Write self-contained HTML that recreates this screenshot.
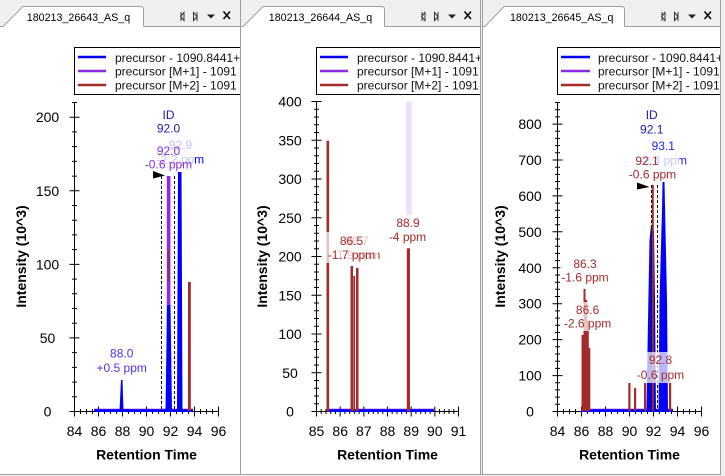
<!DOCTYPE html>
<html><head><meta charset="utf-8"><style>
html,body{margin:0;padding:0;background:#fff;width:725px;height:476px;overflow:hidden}
svg{display:block}
text{font-family:"Liberation Sans",Arial,sans-serif}
.t{font-size:14px;fill:#000}
.ti{font-size:14px;font-weight:bold;fill:#000}
.lg{font-size:12px;fill:#111}
.lb{font-size:12px}
.tab{font-size:10.7px;fill:#000}
</style></head><body>
<svg width="725" height="476" viewBox="0 0 725 476" xmlns="http://www.w3.org/2000/svg">
<defs>
<clipPath id="c1"><rect x="0" y="27" width="240" height="447"/></clipPath>
<clipPath id="c2"><rect x="241" y="27" width="239" height="447"/></clipPath>
<clipPath id="c3"><rect x="483" y="27" width="237" height="447"/></clipPath>
</defs>
<rect width="725" height="476" fill="#fff"/>
<!-- tab strip -->
<rect x="0" y="0" width="725" height="26.5" fill="#f0f0f0"/>
<rect x="721" y="0" width="4" height="476" fill="#f0f0f0"/>
<rect x="0" y="475" width="725" height="1" fill="#f0f0f0"/>
<rect x="481" y="0" width="1.5" height="475" fill="#f0f0f0"/>
<g fill="#fff" stroke="#a0a0a0" stroke-width="1">
<path d="M3 26.5 L23 6.5 H140 Q143.5 6.5 143.5 9.5 V26.5"/>
<path d="M243 26.5 L263 6.5 H381 Q384.5 6.5 384.5 9.5 V26.5"/>
<path d="M485 26.5 L504 6.5 H621 Q624.5 6.5 624.5 9.5 V26.5"/>
</g>
<path d="M0 26.5H3M143.5 26.5H240.5M240.5 26.5H243M384.5 26.5H480.5M482.5 26.5H485M624.5 26.5H720.5" stroke="#a0a0a0" fill="none"/>
<path d="M240.5 0V474.5M480.5 0V474.5M482.5 0V474.5M720.5 0V474.5M0 474.5H721" stroke="#a0a0a0" fill="none"/>
<text class="tab" x="78.5" y="21" text-anchor="middle">180213_26643_AS_q</text>
<text class="tab" x="320.5" y="21" text-anchor="middle">180213_26644_AS_q</text>
<text class="tab" x="561.7" y="21" text-anchor="middle">180213_26645_AS_q</text>
<!-- tab controls -->
<g stroke="#333" stroke-width="1" fill="none">
<path d="M184 12.5 L180.5 16.5 L184 20.5 Z M181 12v9"/>
<path d="M193.5 12.5 L197 16.5 L193.5 20.5 Z M197 12v9"/>
<path d="M425 12.5 L421.5 16.5 L425 20.5 Z M422 12v9"/>
<path d="M434.5 12.5 L438 16.5 L434.5 20.5 Z M438 12v9"/>
<path d="M665 12.5 L661.5 16.5 L665 20.5 Z M662 12v9"/>
<path d="M674.5 12.5 L678 16.5 L674.5 20.5 Z M678 12v9"/>
</g>
<g fill="#222">
<path d="M207 14.5H215L211 18.5Z"/><path d="M448 14.5H456L452 18.5Z"/><path d="M688 14.5H696L692 18.5Z"/>
</g>
<g stroke="#111" stroke-width="1.7">
<path d="M223.5 11.5L230 19M230 11.5L223.5 19"/>
<path d="M464.5 11.5L471 19M471 11.5L464.5 19"/>
<path d="M704.5 11.5L711 19M711 11.5L704.5 19"/>
</g>

<!-- ================= PANEL 1 ================= -->
<g clip-path="url(#c1)">
<rect x="74.5" y="47.5" width="180" height="47" fill="#fff" stroke="#000"/>
<path d="M78 57H106" stroke="#0000ff" stroke-width="2.5"/>
<path d="M78 71H106" stroke="#8a2be2" stroke-width="2.5"/>
<path d="M78 85H106" stroke="#a52a2a" stroke-width="2.5"/>
<text class="lg" x="115" y="62">precursor - 1090.8441++</text>
<text class="lg" x="115" y="75.5">precursor [M+1] - 1091</text>
<text class="lg" x="115" y="89.5">precursor [M+2] - 1091</text>
</g>
<g stroke="#000" stroke-width="1" fill="none">
<path d="M74.5 102.5V411.5M74.5 411.5H218.5"/>
<path d="M69.5 411.5h10M69.5 337.9h10M69.5 264.4h10M69.5 190.8h10M69.5 117.2h10"/>
<path d="M72 396.8h5M72 382.1h5M72 367.4h5M72 352.6h5M72 323.2h5M72 308.5h5M72 293.8h5M72 279.1h5M72 249.6h5M72 234.9h5M72 220.2h5M72 205.5h5M72 176.1h5M72 161.4h5M72 146.6h5M72 131.9h5M72 102.5h5"/>
<path d="M74.5 406.5v10M98.5 406.5v10M122.5 406.5v10M146.5 406.5v10M170.5 406.5v10M194.5 406.5v10M218.5 406.5v10"/>
<path d="M80.5 409v5M86.5 409v5M92.5 409v5M104.5 409v5M110.5 409v5M116.5 409v5M128.5 409v5M134.5 409v5M140.5 409v5M152.5 409v5M158.5 409v5M164.5 409v5M176.5 409v5M182.5 409v5M188.5 409v5M200.5 409v5M206.5 409v5M212.5 409v5"/>
</g>
<g class="t" text-anchor="middle">
<text class="t" x="47.5" y="416.5">0</text>
<text class="t" x="47.5" y="342.9">50</text>
<text class="t" x="47.5" y="269.4">100</text>
<text class="t" x="47.5" y="195.8">150</text>
<text class="t" x="47.5" y="122.2">200</text>
<text class="t" x="74.5" y="436">84</text>
<text class="t" x="98.5" y="436">86</text>
<text class="t" x="122.5" y="436">88</text>
<text class="t" x="146.5" y="436">90</text>
<text class="t" x="170.5" y="436">92</text>
<text class="t" x="194.5" y="436">94</text>
<text class="t" x="218.5" y="436">96</text>
<text class="ti" x="146.5" y="459.5">Retention Time</text>
<text class="ti" transform="translate(26,256.5) rotate(-90)">Intensity (10^3)</text>
</g>
<!-- panel 1 curves -->
<path d="M94 410.5H193" stroke="#0000ff" stroke-width="3"/>
<path d="M94 409H193" stroke="#8a2be2" stroke-width="1" opacity=".6"/>
<path d="M119.5 411 L121 380 L122.5 380 L123.5 411Z" fill="#0000ff"/>
<rect x="166.8" y="176" width="3.6" height="235" fill="#8a2be2"/>
<rect x="167.3" y="250" width="2.6" height="32" fill="#8e2a86"/>
<path d="M165.5 411 L167 305 L170.5 305 L172 411Z" fill="#0000ff"/>
<path d="M177 411 L178 172 L181.5 172 L182.5 411Z" fill="#0000ff"/>
<rect x="188" y="282" width="2.8" height="129" fill="#a52a2a"/>
<path d="M161.5 176V411M174.5 176V411" stroke="#000" stroke-width="1" stroke-dasharray="3,2"/>
<path d="M153 171 L153 178.5 L165 175.5Z" fill="#000"/>
<!-- panel 1 labels -->
<g class="lb" text-anchor="middle">
<text class="lb" x="121.7" y="357.5" fill="#4b32f0">88.0</text>
<text class="lb" x="121.7" y="372" fill="#4b32f0">+0.5 ppm</text>
<text class="lb" x="180.5" y="149.2" fill="#0000ff">92.9</text>
<text class="lb" x="180.5" y="163.5" fill="#0000ff">-2.2 ppm</text>
<rect x="143" y="139" width="51" height="31" fill="#fff" opacity=".75"/>
<text class="lb" x="168.5" y="155" fill="#8a2be2">92.0</text>
<text class="lb" x="168.5" y="168.5" fill="#8a2be2">-0.6 ppm</text>
<text class="lb" x="168.5" y="119" fill="#1a1ab4">ID</text>
<text class="lb" x="168.5" y="132.5" fill="#1a1ab4">92.0</text>
</g>

<!-- ================= PANEL 2 ================= -->
<g clip-path="url(#c2)">
<rect x="316.5" y="47.5" width="180" height="47" fill="#fff" stroke="#000"/>
<path d="M320 57H348" stroke="#0000ff" stroke-width="2.5"/>
<path d="M320 71H348" stroke="#8a2be2" stroke-width="2.5"/>
<path d="M320 85H348" stroke="#a52a2a" stroke-width="2.5"/>
<text class="lg" x="357" y="62">precursor - 1090.8441++</text>
<text class="lg" x="357" y="75.5">precursor [M+1] - 1091</text>
<text class="lg" x="357" y="89.5">precursor [M+2] - 1091</text>
</g>
<g stroke="#000" stroke-width="1" fill="none">
<path d="M316.5 101.5V411.5M316.5 411.5H458.5"/>
<path d="M311.5 411.5h10M311.5 372.75h10M311.5 334h10M311.5 295.25h10M311.5 256.5h10M311.5 217.75h10M311.5 179h10M311.5 140.25h10M311.5 101.5h10"/>
<path d="M314 403.75h5M314 396h5M314 388.25h5M314 380.5h5M314 365h5M314 357.25h5M314 349.5h5M314 341.75h5M314 326.25h5M314 318.5h5M314 310.75h5M314 303h5M314 287.5h5M314 279.75h5M314 272h5M314 264.25h5M314 248.75h5M314 241h5M314 233.25h5M314 225.5h5M314 210h5M314 202.25h5M314 194.5h5M314 186.75h5M314 171.25h5M314 163.5h5M314 155.75h5M314 148h5M314 132.5h5M314 124.75h5M314 117h5M314 109.25h5"/>
<path d="M316.5 406.5v10M340.17 406.5v10M363.83 406.5v10M387.5 406.5v10M411.17 406.5v10M434.83 406.5v10M458.5 406.5v10"/>
<path d="M321.23 409v5M325.97 409v5M330.7 409v5M335.43 409v5M344.9 409v5M349.63 409v5M354.37 409v5M359.1 409v5M368.57 409v5M373.3 409v5M378.03 409v5M382.77 409v5M392.23 409v5M396.97 409v5M401.7 409v5M406.43 409v5M415.9 409v5M420.63 409v5M425.37 409v5M430.1 409v5M439.57 409v5M444.3 409v5M449.03 409v5M453.77 409v5"/>
</g>
<g text-anchor="middle">
<text class="t" x="290" y="416.5">0</text>
<text class="t" x="290" y="377.75">50</text>
<text class="t" x="290" y="339">100</text>
<text class="t" x="290" y="300.25">150</text>
<text class="t" x="290" y="261.5">200</text>
<text class="t" x="290" y="222.75">250</text>
<text class="t" x="290" y="184">300</text>
<text class="t" x="290" y="145.25">350</text>
<text class="t" x="290" y="106.5">400</text>
<text class="t" x="316.5" y="436">85</text>
<text class="t" x="340.2" y="436">86</text>
<text class="t" x="363.8" y="436">87</text>
<text class="t" x="387.5" y="436">88</text>
<text class="t" x="411.2" y="436">89</text>
<text class="t" x="434.8" y="436">90</text>
<text class="t" x="458.5" y="436">91</text>
<text class="ti" x="387.5" y="459.5">Retention Time</text>
<text class="ti" transform="translate(267,256.5) rotate(-90)">Intensity (10^3)</text>
</g>
<!-- panel 2 curves -->
<rect x="406" y="101.7" width="5.7" height="113.3" fill="#ede2fb"/>
<path d="M327 410.5H434" stroke="#0000ff" stroke-width="3"/>
<path d="M327 409H434" stroke="#8a2be2" stroke-width="1" opacity=".6"/>
<rect x="326.5" y="140.7" width="2.6" height="270.8" fill="#a52a2a"/>
<rect x="350.5" y="266" width="2.5" height="145" fill="#a52a2a"/>
<rect x="353.3" y="276" width="1.8" height="135" fill="#a52a2a"/>
<rect x="356" y="268" width="2.5" height="143" fill="#a52a2a"/>
<rect x="406.8" y="248.3" width="3.2" height="163" fill="#a52a2a"/>
<!-- panel 2 labels -->
<g text-anchor="middle">
<text class="lb" x="356.7" y="245" fill="#a52a2a">86.7</text>
<text class="lb" x="356.7" y="259.2" fill="#a52a2a">-1.9 ppm</text>
<rect x="325" y="232" width="53" height="31" fill="#fff" opacity=".72"/>
<text class="lb" x="351.5" y="245" fill="#a52a2a">86.5</text>
<text class="lb" x="351.5" y="259.2" fill="#a52a2a">-1.7 ppm</text>
<text class="lb" x="408" y="227" fill="#a52a2a">88.9</text>
<text class="lb" x="407.5" y="241" fill="#a52a2a">-4 ppm</text>
</g>

<!-- ================= PANEL 3 ================= -->
<g clip-path="url(#c3)">
<rect x="557.5" y="47.5" width="180" height="47" fill="#fff" stroke="#000"/>
<path d="M561 57H590" stroke="#0000ff" stroke-width="2.5"/>
<path d="M561 71H590" stroke="#8a2be2" stroke-width="2.5"/>
<path d="M561 85H590" stroke="#a52a2a" stroke-width="2.5"/>
<text class="lg" x="598" y="62">precursor - 1090.8441++</text>
<text class="lg" x="598" y="75.5">precursor [M+1] - 1091</text>
<text class="lg" x="598" y="89.5">precursor [M+2] - 1091</text>
</g>
<g stroke="#000" stroke-width="1" fill="none">
<path d="M557.5 102.5V411.5M557.5 411.5H701.5"/>
<path d="M552.5 411.5h10M552.5 375.6h10M552.5 339.6h10M552.5 303.7h10M552.5 267.8h10M552.5 231.8h10M552.5 195.9h10M552.5 160h10M552.5 124.1h10"/>
<path d="M555 404.3h5M555 397.1h5M555 389.9h5M555 382.8h5M555 368.4h5M555 361.2h5M555 354h5M555 346.8h5M555 332.5h5M555 325.3h5M555 318.1h5M555 310.9h5M555 296.5h5M555 289.3h5M555 282.2h5M555 275h5M555 260.6h5M555 253.4h5M555 246.2h5M555 239h5M555 224.7h5M555 217.5h5M555 210.3h5M555 203.1h5M555 188.7h5M555 181.5h5M555 174.4h5M555 167.2h5M555 152.8h5M555 145.6h5M555 138.4h5M555 131.2h5M555 116.9h5M555 109.7h5M555 102.5h5"/>
<path d="M557.5 406.5v10M581.5 406.5v10M605.5 406.5v10M629.5 406.5v10M653.5 406.5v10M677.5 406.5v10M701.5 406.5v10"/>
<path d="M563.5 409v5M569.5 409v5M575.5 409v5M587.5 409v5M593.5 409v5M599.5 409v5M611.5 409v5M617.5 409v5M623.5 409v5M635.5 409v5M641.5 409v5M647.5 409v5M659.5 409v5M665.5 409v5M671.5 409v5M683.5 409v5M689.5 409v5M695.5 409v5"/>
</g>
<g text-anchor="middle">
<text class="t" x="530" y="416.5">0</text>
<text class="t" x="530" y="380.6">100</text>
<text class="t" x="530" y="344.6">200</text>
<text class="t" x="530" y="308.7">300</text>
<text class="t" x="530" y="272.8">400</text>
<text class="t" x="530" y="236.8">500</text>
<text class="t" x="530" y="200.9">600</text>
<text class="t" x="530" y="165">700</text>
<text class="t" x="530" y="129.1">800</text>
<text class="t" x="557.5" y="436">84</text>
<text class="t" x="581.5" y="436">86</text>
<text class="t" x="605.5" y="436">88</text>
<text class="t" x="629.5" y="436">90</text>
<text class="t" x="653.5" y="436">92</text>
<text class="t" x="677.5" y="436">94</text>
<text class="t" x="701.5" y="436">96</text>
<text class="ti" x="629.5" y="459.5">Retention Time</text>
<text class="ti" transform="translate(505,256.5) rotate(-90)">Intensity (10^3)</text>
</g>
<!-- panel 3 curves -->
<path d="M581 410.5H673" stroke="#0000ff" stroke-width="3"/>
<path d="M581 409H673" stroke="#8a2be2" stroke-width="1" opacity=".6"/>
<g stroke="#a52a2a" stroke-width="2" fill="none">
<path d="M582.5 411V335"/>
<path d="M584.5 411V289"/>
<path d="M586.2 411V300"/>
<path d="M587.8 411V320"/>
<path d="M589.3 411V348"/>
</g>
<rect x="628.3" y="383" width="2.2" height="28" fill="#a52a2a"/>
<rect x="634" y="388" width="2.2" height="23" fill="#a52a2a"/>
<rect x="644" y="383" width="2.2" height="28" fill="#a52a2a"/>
<rect x="669" y="383" width="2.2" height="28" fill="#a52a2a"/>
<path d="M646.5 411 L648 320 L649.5 240 L651 225 L654 230 L655 300 L656 411Z" fill="#0000ff"/>
<path d="M658.5 411 L659.5 300 L662 210 L662.5 182 L664.5 182 L665.5 230 L667 300 L668 411Z" fill="#0000ff"/>
<rect x="651.8" y="185" width="2" height="226" fill="#a52a2a"/>
<path d="M651.5 185V411M657.5 185V411" stroke="#000" stroke-width="1" stroke-dasharray="3,2"/>
<path d="M637 182.5 L637 189.5 L649.5 187Z" fill="#000"/>
<!-- panel 3 labels -->
<g text-anchor="middle">
<rect x="560" y="256" width="50" height="29" fill="#fff" opacity=".72"/>
<text class="lb" x="585" y="268.2" fill="#a52a2a">86.3</text>
<text class="lb" x="585" y="281.5" fill="#a52a2a">-1.6 ppm</text>
<rect x="562" y="302" width="51" height="29" fill="#fff" opacity=".72"/>
<text class="lb" x="587.6" y="314.2" fill="#a52a2a">86.6</text>
<text class="lb" x="587.6" y="327.5" fill="#a52a2a">-2.6 ppm</text>
<rect x="634" y="352" width="53" height="31" fill="#fff" opacity=".72"/>
<text class="lb" x="660.5" y="364.2" fill="#a52a2a">92.8</text>
<text class="lb" x="660.5" y="379.2" fill="#a52a2a">-0.6 ppm</text>
<text class="lb" x="663.3" y="150" fill="#2020ff">93.1</text>
<text class="lb" x="663.3" y="164.5" fill="#2020ff">-2.4 ppm</text>
<rect x="626" y="153" width="53" height="29" fill="#fff" opacity=".75"/>
<text class="lb" x="647" y="165" fill="#a52a2a">92.1</text>
<text class="lb" x="652.5" y="178.5" fill="#a52a2a">-0.6 ppm</text>
<text class="lb" x="651.7" y="119.2" fill="#1a1ab4">ID</text>
<text class="lb" x="651.7" y="133.5" fill="#1a1ab4">92.1</text>
</g>
</svg>
</body></html>
